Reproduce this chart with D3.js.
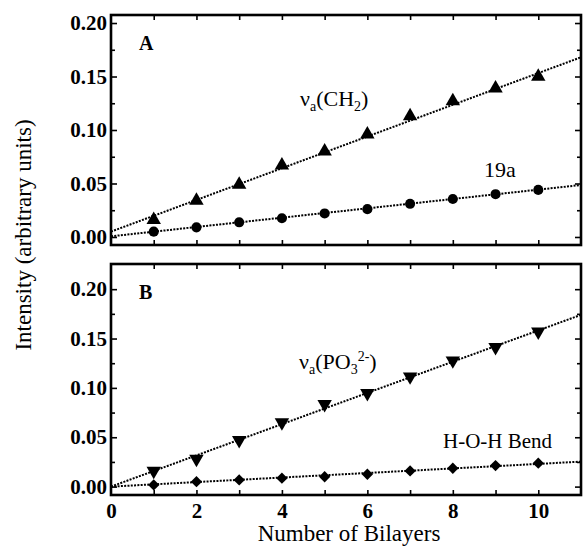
<!DOCTYPE html>
<html>
<head>
<meta charset="utf-8">
<script src="https://cdn.jsdelivr.net/npm/d3@7"></script>
<style>
  body { margin: 0; background: #fff; }
  svg { display: block; }
  text { font-family: "Liberation Serif", "Times New Roman", serif; fill: #000; }
</style>
</head>
<body>
<svg id="chart" width="583" height="546"></svg>
<script>
// Data
const bilayers = [1, 2, 3, 4, 5, 6, 7, 8, 9, 10];
const ch2 = [0.016, 0.034, 0.049, 0.067, 0.080, 0.096, 0.113, 0.127, 0.139, 0.150];
const ring19a = [0.005, 0.009, 0.0137, 0.0175, 0.022, 0.026, 0.031, 0.0355, 0.040, 0.044];
const po3 = [0.016, 0.028, 0.047, 0.065, 0.0836, 0.0946, 0.1115, 0.1277, 0.1413, 0.157];
const hohBend = [0.0017, 0.005, 0.0068, 0.0085, 0.010, 0.0125, 0.0159, 0.0186, 0.0213, 0.0237];

// linear fits, value at x = 0 and x = 11
const fitX = [0, 11];
const fitCH2 = [0.005, 0.168];
const fit19a = [0.0006, 0.0486];
const fitPO3 = [0.0, 0.174];
const fitHOH = [0.0, 0.0253];

const yTicks = [0, 0.05, 0.10, 0.15, 0.20];
const yMinor = [0.025, 0.075, 0.125, 0.175];
const xTicks = [0, 2, 4, 6, 8, 10];

const serif = "Liberation Serif, Times New Roman, serif";
const svg = d3.select("#chart");

const left = 111, right = 581;
const x = d3.scaleLinear().domain([0, 11]).range([left, right]);

const styleAxis = (a) => {
  a.select(".domain").remove();
  a.attr("font-family", serif).attr("font-size", 21).attr("font-weight", "bold");
  a.selectAll(".tick line").attr("stroke", "#000").attr("stroke-width", 1.6);
};

const drawPanel = (top, bottom, yDomain, series, letter) => {
  const y = d3.scaleLinear().domain(yDomain).range([bottom, top]);
  const g = svg.append("g");

  // inward ticks on all four sides
  const minorTicks = d3.range(1, 11);
  g.append("g")
    .attr("transform", `translate(0,${bottom})`)
    .call(d3.axisBottom(x).tickValues(minorTicks).tickSize(-5).tickFormat(""))
    .call(styleAxis);
  g.append("g")
    .attr("transform", `translate(0,${top})`)
    .call(d3.axisTop(x).tickValues(minorTicks).tickSize(-5).tickFormat(""))
    .call(styleAxis);

  g.append("g")
    .attr("transform", `translate(${left},0)`)
    .call(d3.axisLeft(y).tickValues(yTicks).tickSize(-6).tickPadding(4).tickFormat(d3.format(".2f")))
    .call(styleAxis);
  g.append("g")
    .attr("transform", `translate(${left},0)`)
    .call(d3.axisLeft(y).tickValues(yMinor).tickSize(-4).tickFormat(""))
    .call(styleAxis);
  g.append("g")
    .attr("transform", `translate(${right},0)`)
    .call(d3.axisRight(y).tickValues(yTicks).tickSize(-6).tickFormat(""))
    .call(styleAxis);
  g.append("g")
    .attr("transform", `translate(${right},0)`)
    .call(d3.axisRight(y).tickValues(yMinor).tickSize(-4).tickFormat(""))
    .call(styleAxis);

  // frame
  g.append("rect")
    .attr("x", left).attr("y", top)
    .attr("width", right - left).attr("height", bottom - top)
    .attr("fill", "none").attr("stroke", "#000").attr("stroke-width", 2.6);

  const line = d3.line().x((d) => x(d[0])).y((d) => y(d[1]));

  series.forEach((s) => {
    g.append("path")
      .datum(fitX.map((v, i) => [v, s.fit[i]]))
      .attr("d", line)
      .attr("fill", "none")
      .attr("stroke", "#000")
      .attr("stroke-width", 2)
      .attr("stroke-dasharray", "2,1.3");

    g.selectAll(null)
      .data(bilayers.map((v, i) => [v, s.values[i]]))
      .enter()
      .append("path")
      .attr("transform", (d) => `translate(${x(d[0])},${y(d[1])})${s.rotate ? " rotate(" + s.rotate + ")" : ""}`)
      .attr("d", d3.symbol().type(s.symbol).size(s.size))
      .attr("fill", "#000");
  });

  g.append("text")
    .attr("x", 139).attr("y", top + 35)
    .attr("font-weight", "bold").attr("font-size", 20)
    .text(letter);

  return y;
};

drawPanel(15, 245, [-0.0075, 0.2075], [
  { values: ch2, fit: fitCH2, symbol: d3.symbolTriangle, size: 90 },
  { values: ring19a, fit: fit19a, symbol: d3.symbolCircle, size: 80 },
], "A");

drawPanel(264, 495, [-0.0085, 0.2255], [
  { values: po3, fit: fitPO3, symbol: d3.symbolTriangle, size: 90, rotate: 180 },
  { values: hohBend, fit: fitHOH, symbol: d3.symbolSquare, size: 64, rotate: 45 },
], "B");

// bottom x labels
svg.append("g")
  .attr("transform", "translate(0,495)")
  .call(d3.axisBottom(x).tickValues(xTicks).tickSize(0).tickPadding(8))
  .call(styleAxis);

// series labels with sub/superscripts
const label = (xp, yp, parts) => {
  const t = svg.append("text").attr("x", xp).attr("y", yp).attr("font-size", 22);
  let shift = 0;
  parts.forEach((p) => {
    const off = p.k === "sub" ? 5 : p.k === "sup" ? -8 : 0;
    const ts = t.append("tspan").attr("dy", off - shift).text(p.t);
    if (p.k) ts.attr("font-size", 14);
    shift = off;
  });
};

label(300, 106, [{ t: "ν" }, { t: "a", k: "sub" }, { t: "(CH" }, { t: "2", k: "sub" }, { t: ")" }]);
svg.append("text").attr("x", 484).attr("y", 177).attr("font-size", 22).text("19a");
label(299, 369, [{ t: "ν" }, { t: "a", k: "sub" }, { t: "(PO" }, { t: "3", k: "sub" }, { t: "2-", k: "sup" }, { t: ")" }]);
svg.append("text").attr("x", 443).attr("y", 448).attr("font-size", 21).text("H-O-H Bend");

// axis titles
svg.append("text")
  .attr("x", 349).attr("y", 541)
  .attr("text-anchor", "middle").attr("font-size", 23)
  .text("Number of Bilayers");

svg.append("text")
  .attr("transform", "translate(31,235) rotate(-90)")
  .attr("text-anchor", "middle").attr("font-size", 23)
  .text("Intensity (arbitrary units)");
</script>
</body>
</html>
